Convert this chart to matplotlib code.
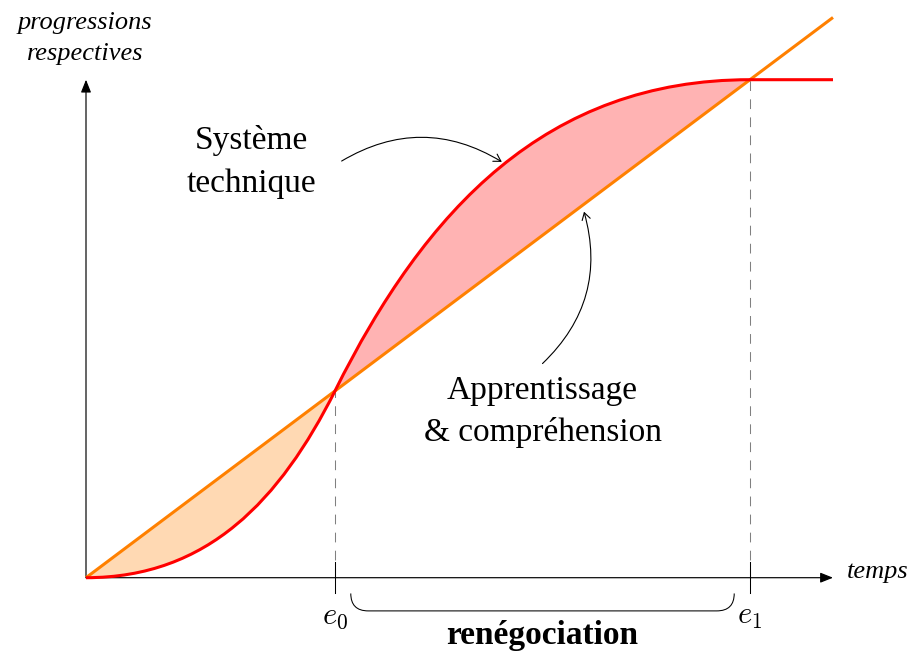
import matplotlib
matplotlib.use("Agg")
import matplotlib.pyplot as plt
from matplotlib.path import Path
from matplotlib.patches import PathPatch

# ---------------- data ----------------
e_labels = [r"$e_0$", r"$e_1$"]
e_points = [3.0, 8.0]
learning_x = [0.0, 9.0]          # "Apprentissage & compréhension" (straight line)
learning_y = [0.0, 6.75]
tech_nodes_x = [0.0, 3.0, 8.0, 9.0]   # "Système technique" curve nodes
tech_nodes_y = [0.0, 2.25, 6.0, 6.0]
tech_ctrl_x = [1.47, 2.34, 4.09, 5.55]  # Bézier control points (2 per segment)
tech_ctrl_y = [0.0, 0.94, 4.44, 6.0]
axis_x_max = 9.0
axis_y_max = 6.0
x_label = "temps"
y_label = ["progressions", "respectives"]
tech_label = ["Système", "technique"]
learn_label = ["Apprentissage", "& compréhension"]
bottom_label = "renégociation"

# ---------------- style ----------------
plt.rcParams["font.family"] = ["Liberation Serif", "DejaVu Serif"]
plt.rcParams["mathtext.fontset"] = "cm"
plt.rcParams["lines.scale_dashes"] = False

RED = "#FF0000"
ORANGE = "#FF8000"
RED_FILL = "#FFB3B3"
ORANGE_FILL = "#FFD9B3"

fig = plt.figure(figsize=(9.17, 6.52), dpi=100)
ax = fig.add_axes([0, 0, 1, 1])
ax.set_xlim(-86 / 83, 831 / 83)
ax.set_ylim(-74.3 / 83, 577.7 / 83)
ax.axis("off")

n = list(zip(tech_nodes_x, tech_nodes_y))
c = list(zip(tech_ctrl_x, tech_ctrl_y))

# fills between curve and line
fill1 = Path([n[0], c[0], c[1], n[1], n[0], n[0]],
             [Path.MOVETO, Path.CURVE4, Path.CURVE4, Path.CURVE4, Path.LINETO, Path.CLOSEPOLY])
fill2 = Path([n[1], c[2], c[3], n[2], n[1], n[1]],
             [Path.MOVETO, Path.CURVE4, Path.CURVE4, Path.CURVE4, Path.LINETO, Path.CLOSEPOLY])
ax.add_patch(PathPatch(fill1, facecolor=ORANGE_FILL, edgecolor="none", zorder=1))
ax.add_patch(PathPatch(fill2, facecolor=RED_FILL, edgecolor="none", zorder=1))

# dashed verticals + ticks
for xe, lab in zip(e_points, e_labels):
    ye = learning_y[0] + (learning_y[1] - learning_y[0]) * (xe - learning_x[0]) / (learning_x[1] - learning_x[0])
    ax.plot([xe, xe], [0, ye], color="#808080", lw=0.75, dashes=(7, 6), zorder=2)
    ax.plot([xe, xe], [-0.19, 0.19], color="black", lw=0.75, zorder=3)
    ax.text(xe, -0.55, lab, ha="center", va="baseline", fontsize=22)

# axes with arrows
arr = dict(arrowstyle="-|>,head_length=0.55,head_width=0.22", color="black", lw=0.85,
           shrinkA=0, shrinkB=0, mutation_scale=14)
ax.annotate("", xy=(axis_x_max, 0), xytext=(0, 0), arrowprops=arr, zorder=3)
ax.annotate("", xy=(0, axis_y_max), xytext=(0, 0), arrowprops=arr, zorder=3)

# technical curve
tech = Path([n[0], c[0], c[1], n[1], c[2], c[3], n[2], n[3]],
            [Path.MOVETO] + [Path.CURVE4] * 6 + [Path.LINETO])
ax.add_patch(PathPatch(tech, facecolor="none", edgecolor=RED, lw=2.2, zorder=5,
                       capstyle="butt"))
# learning line
ax.plot(learning_x, learning_y, color=ORANGE, lw=2.2, zorder=4, solid_capstyle="butt")

# labels
ax.text(-0.01, 6.61, y_label[0], ha="center", va="baseline", fontsize=19, style="italic")
ax.text(-0.01, 6.24, y_label[1], ha="center", va="baseline", fontsize=19, style="italic")
ax.text(9.165, 0.0, x_label, ha="left", va="baseline", fontsize=19, style="italic")

ax.text(1.99, 5.16, tech_label[0], ha="center", va="baseline", fontsize=24)
ax.text(1.99, 4.65, tech_label[1], ha="center", va="baseline", fontsize=24)
ax.text(5.50, 2.153, learn_label[0], ha="center", va="baseline", fontsize=24)
ax.text(5.50, 1.647, learn_label[1], ha="center", va="baseline", fontsize=24)
ax.text(5.49, -0.80, bottom_label, ha="center", va="baseline", fontsize=24, weight="bold")

# curved annotation arrows
thin = dict(arrowstyle="->,head_length=0.5,head_width=0.3", color="black", lw=0.8,
            shrinkA=0, shrinkB=0, mutation_scale=10)
ax.annotate("", xy=(5.01, 5.01), xytext=(3.08, 5.02),
            arrowprops=dict(thin, connectionstyle="arc3,rad=-0.3"), zorder=6)
ax.annotate("", xy=(6.0, 4.41), xytext=(5.50, 2.58),
            arrowprops=dict(thin, connectionstyle="arc3,rad=0.3"), zorder=6)

# bracket under the axis
bl, br = e_points[0] + 0.19, e_points[1] - 0.19
bt, bb, r = -0.19, -0.40, 0.21
brace = Path([(bl, bt), (bl, bb), (bl + r, bb), (br - r, bb), (br, bb), (br, bt)],
             [Path.MOVETO, Path.CURVE3, Path.CURVE3, Path.LINETO, Path.CURVE3, Path.CURVE3])
ax.add_patch(PathPatch(brace, facecolor="none", edgecolor="black", lw=0.75))

fig.savefig("out.png", dpi=100)
